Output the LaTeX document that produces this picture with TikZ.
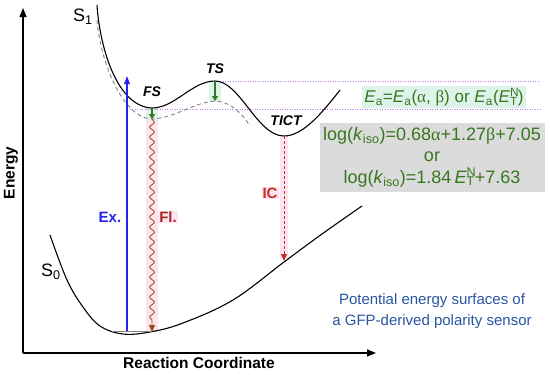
\documentclass[tikz,border=0pt]{standalone}
\usepackage{fontspec}
\setmainfont{Liberation Sans}
\newfontfamily\grk{Liberation Serif}
\usetikzlibrary{arrows.meta,decorations.pathmorphing}
\definecolor{exblue}{RGB}{35,35,240}
\definecolor{flbrown}{RGB}{150,75,30}
\definecolor{icred}{RGB}{195,50,40}
\definecolor{relgreen}{RGB}{55,120,30}
\definecolor{levelpurple}{RGB}{190,120,240}
\definecolor{noteblue}{RGB}{40,85,160}
\definecolor{pinkbg}{RGB}{253,228,240}
\definecolor{mintbg}{RGB}{222,244,234}
\newcommand{\ETN}{\textit{E}\rlap{\textsuperscript{N}}\textsubscript{T}}

\begin{document}
\begin{tikzpicture}[x=1pt,y=-1pt,
  surface/.style={line width=1.1pt},
  vertical/.style={gray,line width=0.9pt,dash pattern=on 4pt off 3pt},
  axis/.style={line width=1.3pt,-{Triangle[length=9pt,width=7pt]}},
  level/.style={levelpurple,line width=0.9pt,dash pattern=on 1pt off 1.5pt},
  relax/.style={relgreen,line width=2pt,-{Triangle[length=5pt,width=6pt]}},
  state/.style={font=\fontsize{14}{16}\selectfont\bfseries\itshape},
  surflab/.style={font=\fontsize{18}{20}\selectfont},
  axlab/.style={font=\fontsize{15.5}{18}\selectfont\bfseries},
  translab/.style={font=\fontsize{15}{18}\selectfont\bfseries,inner sep=1pt}]
\useasboundingbox (0,0) rectangle (550,375);
% key points on the surfaces
\coordinate (fs) at (152,108);
\coordinate (fsv) at (152,119);
\coordinate (ts) at (215,81);
\coordinate (tsv) at (215,101);
\coordinate (tict) at (284,136);
\coordinate (gs) at (127,331);
\coordinate (exend) at (127,76);
\coordinate (flend) at (152,332);
\coordinate (icend) at (284,261);
\coordinate (origin) at (23,353);
\coordinate (ytop) at (23,8);
\coordinate (xend) at (376,353);
\coordinate (lvlts) at (540,81);
\coordinate (lvlfs) at (127,109);
\coordinate (lvlfsend) at (540,109);
% light backgrounds
\fill[pinkbg] (146,119) rectangle (158,332);
\fill[pinkbg] (280,136) rectangle (288,258);
\fill[mintbg] (146,108) rectangle (158,121);
\fill[mintbg] (209,81) rectangle (221,102);
% energy levels
\draw[level] (ts) -- (lvlts);
\draw[level] (lvlfs) -- (lvlfsend);
% axes
\draw[axis] (origin) -- (ytop);
\draw[axis] (origin) -- (xend);
% surfaces
\draw[surface] (97,5) .. controls (100,50) and (118,107) .. (fs)
  .. controls (175,108) and (192,81) .. (ts)
  .. controls (240,81) and (257,136) .. (tict)
  .. controls (303,136) and (322,113) .. (340,90);
\draw[vertical] (97,20) .. controls (100,60) and (122,118) .. (fsv)
  .. controls (175,118) and (195,102) .. (tsv)
  .. controls (232,102) and (243,115) .. (250,126);
\draw[surface] plot[smooth,tension=0.6] coordinates {(50,235) (67,280) (83,307) (100,326) (123,334) (150,332) (183,323) (233,300) (284,262) (322,234) (362,206)};
\draw[gray,line width=0.8pt] (112,331) -- (152,331);
% transitions
\draw[exblue,line width=1.3pt,-{Triangle[length=8pt,width=5.5pt]}] (gs) -- (exend);
\draw[flbrown,line width=0.8pt,decorate,decoration={snake,amplitude=2.4pt,segment length=10pt,post length=7pt},-{Triangle[length=7pt,width=6pt]}] (fsv) -- (flend);
\draw[icred,line width=1pt,dash pattern=on 3pt off 2pt,-{Triangle[length=7pt,width=6pt]}] (tict) -- (icend);
\draw[relax] (fs) -- (fsv);
\draw[relax] (ts) -- (tsv);
% labels
\node[state] (fslab) at (152,92) {FS};
\node[state] (tslab) at (215,69) {TS};
\node[state] (tictlab) at (286,121) {TICT};
\node[surflab] (s1lab) at (83,17) {S\textsubscript{1}};
\node[surflab] (s0lab) at (51,272) {S\textsubscript{0}};
\node[translab,text=exblue] (exlab) at (110,217) {Ex.};
\node[translab,text=icred!85!black,fill=pinkbg] (fllab) at (168,217) {Fl.};
\node[translab,text=icred,fill=pinkbg] (iclab) at (270,193) {IC};
\node[axlab,rotate=90] (elab) at (11,173) {Energy};
\node[axlab] (rclab) at (199,363) {Reaction Coordinate};
\node[font=\fontsize{17}{19}\selectfont,text=relgreen,fill=mintbg,inner sep=2pt] (ealab) at (444,97)
  {\textit{E}\textsubscript{a}=\textit{E}\textsubscript{a}({\grk α}, {\grk β}) or \textit{E}\textsubscript{a}(\ETN)};
\node[font=\fontsize{18}{21.5}\selectfont,text=relgreen,fill=gray!28,align=center,minimum width=225pt,minimum height=69pt] (kiso) at (432,157)
  {log(\textit{k}\textsubscript{iso})=0.68{\grk α}+1.27{\grk β}+7.05\\or\\log(\textit{k}\textsubscript{iso})=1.84\,\ETN+7.63};
\node[font=\fontsize{15}{21}\selectfont,text=noteblue,align=center] (note) at (432,311)
  {Potential energy surfaces of\\a GFP-derived polarity sensor};
\end{tikzpicture}
\end{document}
